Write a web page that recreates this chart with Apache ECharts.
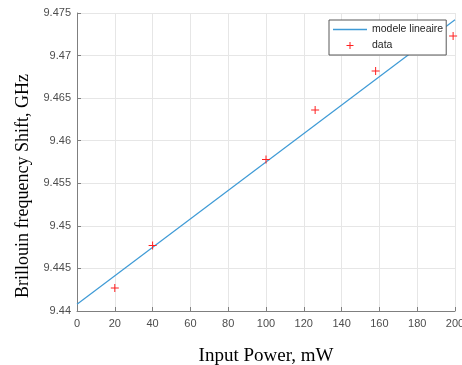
<!DOCTYPE html>
<html>
<head>
<meta charset="utf-8">
<script src="https://cdn.jsdelivr.net/npm/echarts@6/dist/echarts.min.js"></script>
<style>
  html, body { margin: 0; padding: 0; background: #fff; }
  #chart { width: 462px; height: 365px; }
</style>
</head>
<body>
<div id="chart"></div>
<script>
// measured points
const powerMw = [20, 40, 100, 126, 158, 199];
const shiftGhz = [9.4427, 9.4477, 9.4578, 9.4636, 9.4682, 9.4723];
// fitted line end points
const fitX = [0, 200];
const fitY = [9.4408, 9.4742];
const seriesNames = ['modele lineaire', 'data'];

const axisGray = '#7f7f7f';
const labelGray = '#4d4d4d';
const plusPath = 'path://M0,3.5h8v1h-8zM3.5,0h1v8h-1z';

const chart = echarts.init(document.getElementById('chart'));
const option = {
  animation: false,
  grid: { left: 77, right: 7, top: 13, bottom: 54, outerBoundsMode: 'none' },
  legend: {
    orient: 'vertical',
    left: 329,
    top: 20,
    padding: [4, 3, 4, 4],
    itemGap: 5,
    itemWidth: 34,
    itemHeight: 10,
    borderColor: '#595959',
    borderWidth: 1,
    backgroundColor: '#fff',
    textStyle: { fontFamily: 'Liberation Sans', fontSize: 10.5, color: '#262626' },
    data: [
      { name: seriesNames[0], icon: 'path://M0,0M34,10M0,4.3h34v1.4h-34z' },
      { name: seriesNames[1], icon: 'path://M0,0M34,10M13.5,4.5h7v1h-7zM16.5,1.5h1v7h-1z' }
    ]
  },
  xAxis: {
    type: 'value',
    min: 0,
    max: 200,
    interval: 20,
    name: 'Input Power, mW',
    nameLocation: 'middle',
    nameGap: 36,
    nameTextStyle: { fontFamily: 'Liberation Serif', fontSize: 19, color: '#000' },
    axisLine: { lineStyle: { color: axisGray, width: 1 } },
    axisTick: { inside: true, length: 4, lineStyle: { color: axisGray } },
    axisLabel: { fontFamily: 'Liberation Sans', fontSize: 11, color: labelGray, margin: 7 },
    splitLine: { show: true, lineStyle: { color: '#e6e6e6' } }
  },
  yAxis: {
    type: 'value',
    min: 9.44,
    max: 9.475,
    interval: 0.005,
    name: 'Brillouin frequency Shift, GHz',
    nameLocation: 'middle',
    nameGap: 41,
    nameTextStyle: {
      fontFamily: 'Liberation Serif', fontSize: 18, color: '#000',
      padding: [0, 48, 0, 0]
    },
    axisLine: { show: true, lineStyle: { color: axisGray, width: 1 } },
    axisTick: { show: true, inside: true, length: 4, lineStyle: { color: axisGray } },
    axisLabel: {
      fontFamily: 'Liberation Sans', fontSize: 11, color: labelGray, margin: 6,
      formatter: v => String(+v.toFixed(3))
    },
    splitLine: { show: true, lineStyle: { color: '#e6e6e6' } }
  },
  series: [
    {
      name: seriesNames[0],
      type: 'line',
      symbol: 'none',
      data: fitX.map((x, i) => [x, fitY[i]]),
      lineStyle: { color: '#3e9ad6', width: 1.2 },
      itemStyle: { color: '#3e9ad6' }
    },
    {
      name: seriesNames[1],
      type: 'scatter',
      symbol: plusPath,
      symbolSize: 8,
      zlevel: 1,
      data: powerMw.map((x, i) => [x, shiftGhz[i]]),
      itemStyle: { color: '#ff2020', opacity: 1 }
    }
  ]
};
chart.setOption(option);
</script>
</body>
</html>
